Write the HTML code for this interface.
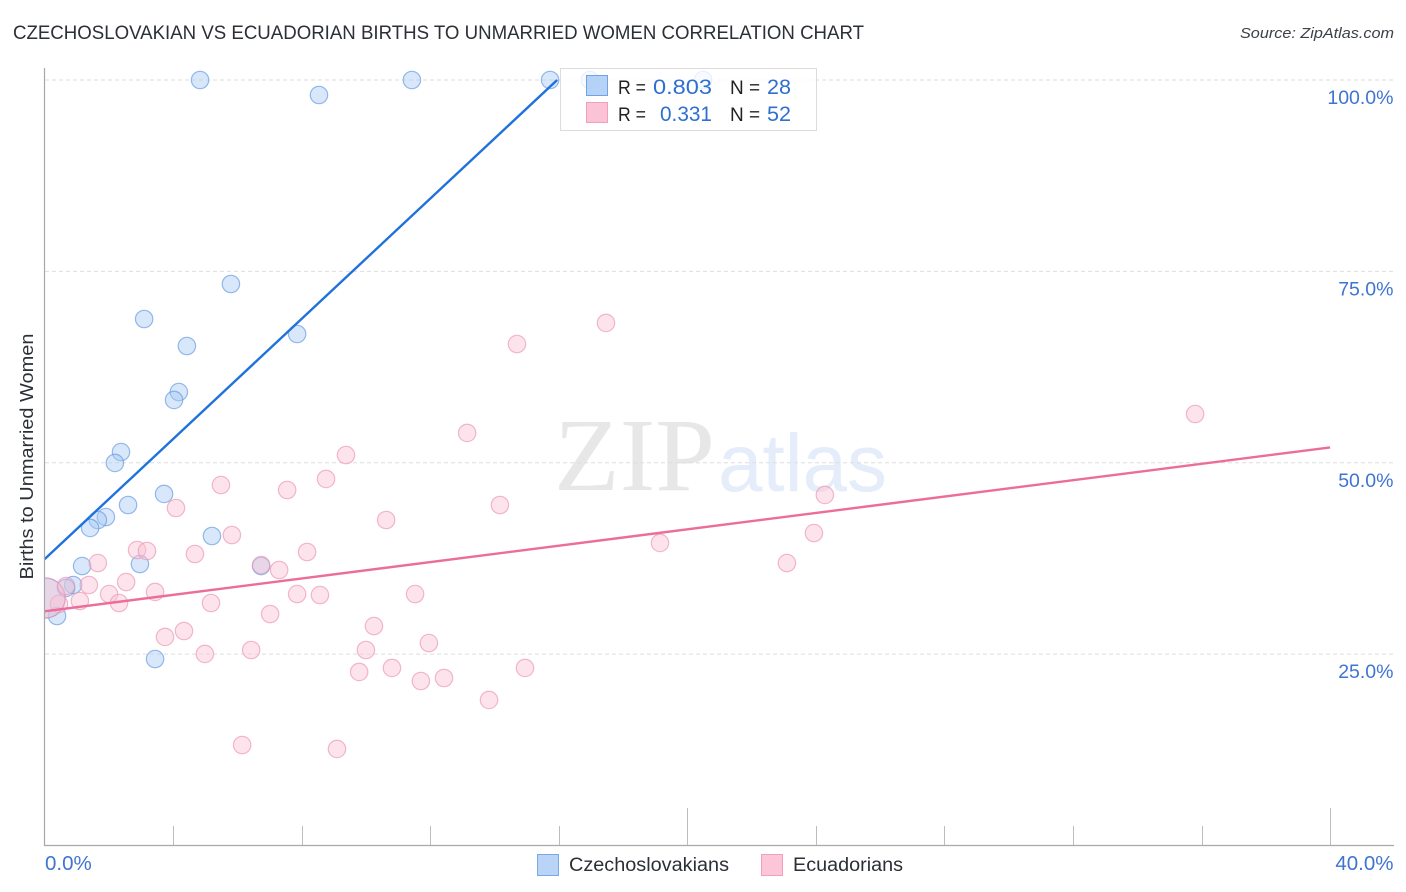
<!DOCTYPE html>
<html lang="en">
<head>
<meta charset="utf-8">
<title>Czechoslovakian vs Ecuadorian Births to Unmarried Women Correlation Chart</title>
<style>
html,body{margin:0;padding:0;background:#fff;}
svg{display:block;font-family:"Liberation Sans",Arial,sans-serif;}
</style>
</head>
<body>
<svg id="chart" xmlns="http://www.w3.org/2000/svg" width="1406" height="892" viewBox="0 0 1406 892">
  <rect x="0" y="0" width="1406" height="892" fill="#ffffff"/>
  <text x="13" y="39" font-size="19" fill="#2b2f36" textLength="851" lengthAdjust="spacingAndGlyphs">CZECHOSLOVAKIAN VS ECUADORIAN BIRTHS TO UNMARRIED WOMEN CORRELATION CHART</text>
  <text x="1394" y="38" font-size="15" font-style="italic" fill="#3c4148" text-anchor="end" textLength="154" lengthAdjust="spacingAndGlyphs">Source: ZipAtlas.com</text>
  <g>
    <text x="554" y="490" font-family="'Liberation Serif',serif" font-size="104" fill="#e7e7e7" textLength="161" lengthAdjust="spacingAndGlyphs">ZIP</text>
    <text x="718" y="491" font-size="82" fill="#e4edf9" textLength="169" lengthAdjust="spacingAndGlyphs">atlas</text>
  </g>
  <g id="grid"></g>
  <g id="points"></g>
  <g id="trends"></g>
  <g id="axes"></g>
  <text transform="translate(33,456.5) rotate(-90)" font-size="18.5" fill="#2b2f36" text-anchor="middle" textLength="246" lengthAdjust="spacingAndGlyphs">Births to Unmarried Women</text>
  <g>
    <rect x="560.5" y="68.5" width="256" height="62" fill="#ffffff" fill-opacity="0.8" stroke="#dcdcdc" stroke-width="1"/>
    <rect x="586.5" y="75.5" width="21" height="20" fill="#a9caf5" fill-opacity="0.85" stroke="#6fa3e3"/>
    <rect x="586.5" y="102.5" width="21" height="20" fill="#fcc3d6" stroke="#f0a0bc"/>
    <text x="618" y="94" font-size="19" fill="#222" textLength="28" lengthAdjust="spacingAndGlyphs">R =</text>
    <text x="712" y="94" font-size="21" fill="#2f6fd0" text-anchor="end" textLength="59" lengthAdjust="spacingAndGlyphs">0.803</text>
    <text x="730" y="94" font-size="19" fill="#222">N =</text>
    <text x="767" y="94" font-size="21" fill="#2f6fd0" textLength="24" lengthAdjust="spacingAndGlyphs">28</text>
    <text x="618" y="121" font-size="19" fill="#222" textLength="28" lengthAdjust="spacingAndGlyphs">R =</text>
    <text x="712" y="121" font-size="21" fill="#2f6fd0" text-anchor="end" textLength="52" lengthAdjust="spacingAndGlyphs">0.331</text>
    <text x="730" y="121" font-size="19" fill="#222">N =</text>
    <text x="767" y="121" font-size="21" fill="#2f6fd0" textLength="24" lengthAdjust="spacingAndGlyphs">52</text>
  </g>
  <g>
    <rect x="537.5" y="854.5" width="21" height="21" fill="#b9d4f6" stroke="#7aa8e6"/>
    <text x="569" y="871" font-size="19" fill="#2b2f36" textLength="160" lengthAdjust="spacingAndGlyphs">Czechoslovakians</text>
    <rect x="761.5" y="854.5" width="21" height="21" fill="#fcc6d8" stroke="#f0a0bc"/>
    <text x="793" y="871" font-size="19" fill="#2b2f36" textLength="110" lengthAdjust="spacingAndGlyphs">Ecuadorians</text>
  </g>
</svg>
<script>
const xTickValues = [4, 8, 12, 16, 20, 24, 28, 32, 36, 40];
const xMajorTicks = [20, 40];
const xTickLabels = ['0.0%', '40.0%'];
const yGridValues = [25, 50, 75, 100];
const yTickLabels = ['25.0%', '50.0%', '75.0%', '100.0%'];

const czechX = [4.84, 8.54, 11.43, 15.73, 16.97, 20.49, 5.80, 7.86, 3.10, 4.43, 4.18, 4.03, 2.38, 2.19, 3.72, 2.60, 1.91, 1.66, 1.42, 5.21, 2.97, 1.17, 6.74, 0.89, 0.67, 0.39, 3.44, 0.02];
const czechY = [100, 98.04, 100, 100, 100, 100, 73.35, 66.82, 68.78, 65.25, 59.24, 58.2, 51.4, 49.97, 45.92, 44.48, 42.91, 42.52, 41.48, 40.43, 36.77, 36.51, 36.51, 34.03, 33.64, 29.98, 24.36, 32.33];
const czechWeight = [1, 1, 1, 1, 1, 1, 1, 1, 1, 1, 1, 1, 1, 1, 1, 1, 1, 1, 1, 1, 1, 1, 1, 1, 1, 1, 1, 2.3];

const ecuadorX = [35.8, 17.47, 14.7, 13.15, 9.38, 8.76, 5.49, 7.55, 24.28, 14.17, 4.09, 10.63, 5.83, 23.94, 19.15, 2.88, 3.19, 4.68, 8.17, 1.66, 23.1, 6.74, 7.3, 2.54, 1.38, 3.44, 2.01, 7.86, 8.57, 11.53, 5.18, 2.32, 1.1, 0.45, 7.02, 10.25, 4.34, 3.75, 11.96, 6.43, 4.99, 10.0, 10.81, 14.95, 9.79, 11.71, 12.43, 13.83, 6.15, 9.1, 0.02, 0.67];
const ecuadorY = [56.37, 68.26, 65.51, 53.89, 51.01, 47.88, 47.09, 46.44, 45.79, 44.48, 44.09, 42.52, 40.56, 40.82, 39.52, 38.6, 38.47, 38.08, 38.34, 36.9, 36.9, 36.64, 35.99, 34.42, 34.03, 33.12, 32.85, 32.85, 32.72, 32.85, 31.68, 31.68, 31.94, 31.55, 30.24, 28.67, 28.02, 27.24, 26.45, 25.54, 25.02, 25.54, 23.19, 23.19, 22.67, 21.49, 21.88, 19.01, 13.13, 12.61, 32.33, 33.9];
const ecuadorWeight = [1, 1, 1, 1, 1, 1, 1, 1, 1, 1, 1, 1, 1, 1, 1, 1, 1, 1, 1, 1, 1, 1, 1, 1, 1, 1, 1, 1, 1, 1, 1, 1, 1, 1, 1, 1, 1, 1, 1, 1, 1, 1, 1, 1, 1, 1, 1, 1, 1, 1, 2.3, 1];

const czechTrendX = [0, 15.95];
const czechTrendY = [37.4, 100];
const ecuadorTrendX = [0, 40];
const ecuadorTrendY = [30.6, 52.0];

const NS = 'http://www.w3.org/2000/svg';
const xScale = v => 44.5 + v * 32.14;
const yScale = v => 845.5 - v * 7.655;
const make = (parent, tag, props) => {
  const el = document.createElementNS(NS, tag);
  Object.keys(props).forEach(k => el.setAttribute(k, props[k]));
  parent.appendChild(el);
  return el;
};
const gridG = document.getElementById('grid');
const pointsG = document.getElementById('points');
const trendsG = document.getElementById('trends');
const axesG = document.getElementById('axes');

yGridValues.forEach((v, i) => {
  const line = make(gridG, 'line', {x1: 45, x2: 1394, y1: yScale(v), y2: yScale(v), stroke: '#dedede', 'stroke-width': 1, 'stroke-dasharray': '4 3'});
  
  
  const label = make(axesG, 'text', {x: 1393.5, y: yScale(v) + 24, 'font-size': 19.5, fill: '#3f74d1', 'text-anchor': 'end'});
  
  
  label.textContent = yTickLabels[i];
});

const drawSeries = (xs, ys, weights, fill, stroke, name) => {
  xs.forEach((x, i) => {
    const dot = make(pointsG, 'circle', {cx: xScale(x), cy: yScale(ys[i]), r: 8.7 * weights[i], fill: fill, 'fill-opacity': 0.45, stroke: stroke, 'stroke-opacity': 0.65, 'stroke-width': 1.2, 'clip-path': 'url(#plot-clip)'});
    
    
  });
};
const clipDefs = make(pointsG, 'defs', {});
const clip = make(clipDefs, 'clipPath', {id: 'plot-clip'});
make(clip, 'rect', {x: 45, y: 60, width: 1350, height: 786});
drawSeries(czechX, czechY, czechWeight, '#a9caf2', '#5f97e0', 'czechoslovakian-point');
drawSeries(ecuadorX, ecuadorY, ecuadorWeight, '#fbc0d3', '#eb93b3', 'ecuadorian-point');

const czechLine = make(trendsG, 'line', {x1: xScale(czechTrendX[0]), y1: yScale(czechTrendY[0]), x2: xScale(czechTrendX[1]), y2: yScale(czechTrendY[1]), stroke: '#1f72dc', 'stroke-width': 2.4});


const ecuadorLine = make(trendsG, 'line', {x1: xScale(ecuadorTrendX[0]), y1: yScale(ecuadorTrendY[0]), x2: xScale(ecuadorTrendX[1]), y2: yScale(ecuadorTrendY[1]), stroke: '#ec6d9b', 'stroke-width': 2.4});



const yAxis = make(axesG, 'line', {x1: 44.5, x2: 44.5, y1: 68, y2: 846, stroke: '#a8a8a8', 'stroke-width': 1.2});


const xAxis = make(axesG, 'line', {x1: 44, x2: 1394, y1: 845.5, y2: 845.5, stroke: '#a8a8a8', 'stroke-width': 1.2});



xTickValues.forEach(v => {
  const top = xMajorTicks.includes(v) ? 808 : 826;
  const tick = make(axesG, 'line', {x1: Math.round(xScale(v)) + 0.5, x2: Math.round(xScale(v)) + 0.5, y1: top, y2: 845, stroke: '#bdbdbd', 'stroke-width': 1});
  
  
});

const xLabelMin = make(axesG, 'text', {x: 45, y: 870, 'font-size': 20.5, fill: '#3f74d1'});


xLabelMin.textContent = xTickLabels[0];
const xLabelMax = make(axesG, 'text', {x: 1393.5, y: 870, 'font-size': 20.5, fill: '#3f74d1', 'text-anchor': 'end'});


xLabelMax.textContent = xTickLabels[1];
</script>
</body>
</html>
